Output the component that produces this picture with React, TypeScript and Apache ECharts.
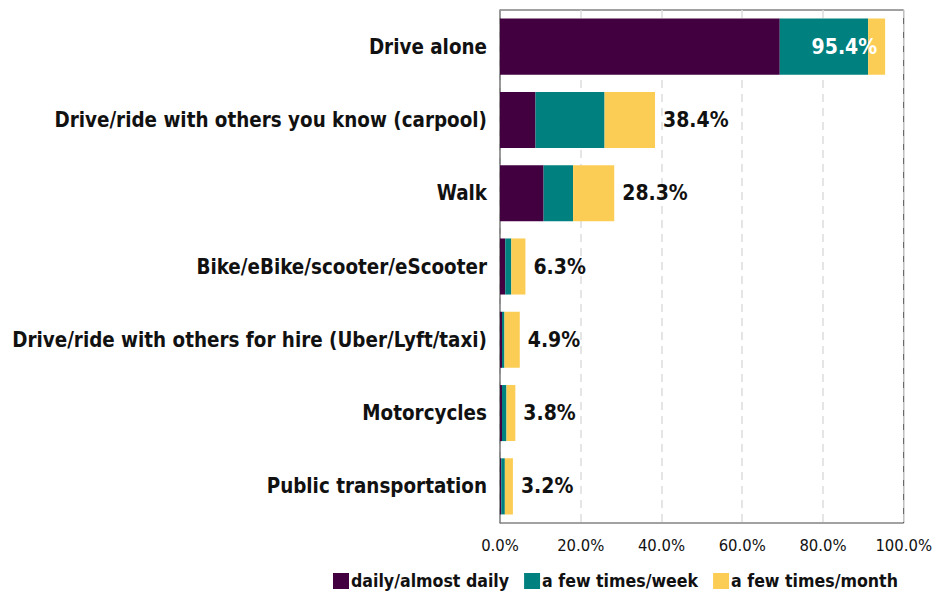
import React, { useEffect, useRef } from "react";
import * as echarts from "echarts";

const categories = [
  "Drive alone",
  "Drive/ride with others you know (carpool)",
  "Walk",
  "Bike/eBike/scooter/eScooter",
  "Drive/ride with others for hire (Uber/Lyft/taxi)",
  "Motorcycles",
  "Public transportation",
];
const daily = [69.3, 8.8, 10.8, 1.3, 0.5, 0.5, 0.3];
const weekly = [21.9, 17.1, 7.3, 1.5, 0.6, 1.1, 0.9];
const monthly = [4.2, 12.5, 10.2, 3.5, 3.8, 2.2, 2.0];
const totals = ["95.4%", "38.4%", "28.3%", "6.3%", "4.9%", "3.8%", "3.2%"];
const seriesNames = ["daily/almost daily", "a few times/week", "a few times/month"];
const tickValues = [0, 20, 40, 60, 80, 100];

const FONT = "'DejaVu Sans Condensed', 'DejaVu Sans', sans-serif";

export default function App() {
  const ref = useRef<HTMLDivElement>(null);
  useEffect(() => {
    if (!ref.current) return;
    document.body.style.margin = "0";
    const chart = echarts.init(ref.current, null, { renderer: "svg" });
    const colors = ["#420040", "#00817f", "#fccd55"];
    const monthData = monthly.map((v, i) => {
      if (i === 0) {
        return {
          value: v,
          label: {
            show: true,
            position: "insideRight",
            distance: 8,
            color: "#ffffff",
            formatter: () => totals[i],
          },
        };
      }
      return v;
    });
    chart.setOption({
      animation: false,
      textStyle: { fontFamily: FONT },
      color: colors,
      grid: {
        left: 500,
        right: 31,
        top: 10,
        bottom: 68,
        show: true,
        borderColor: "#444444",
        borderWidth: 1,
        containLabel: false,
      },
      legend: {
        top: 567,
        left: 328,
        itemWidth: 16,
        itemHeight: 16,
        itemGap: 15,
        icon: "rect",
        textStyle: { fontFamily: FONT, fontSize: 17.6, fontWeight: "bold", color: "#111", padding: [0, 0, 0, -3] },
        data: seriesNames,
      },
      xAxis: {
        type: "value",
        min: tickValues[0],
        max: tickValues[tickValues.length - 1],
        interval: 20,
        axisLine: { show: false },
        axisTick: { show: false },
        axisLabel: {
          color: "#111",
          fontSize: 16.5,
          fontFamily: FONT,
          margin: 14,
          formatter: (v: number) => v.toFixed(1) + "%",
        },
        splitLine: { show: true, lineStyle: { type: [8, 6], color: "#dddddd", width: 1.5 } },
      },
      yAxis: {
        type: "category",
        inverse: true,
        data: categories,
        axisLine: { show: true, lineStyle: { color: "#888888", width: 1.5 } },
        axisTick: { show: false },
        axisLabel: {
          color: "#111",
          fontSize: 20.4,
          fontWeight: "bold",
          fontFamily: FONT,
          margin: 13,
        },
      },
      series: [
        {
          name: seriesNames[0],
          type: "bar",
          stack: "total",
          barCategoryGap: "23.5%",
          data: daily,
        },
        {
          name: seriesNames[1],
          type: "bar",
          stack: "total",
          data: weekly,
        },
        {
          name: seriesNames[2],
          type: "bar",
          stack: "total",
          data: monthData,
          label: {
            show: true,
            position: "right",
            distance: 8,
            color: "#111",
            fontSize: 21,
            fontWeight: "bold",
            fontFamily: FONT,
            formatter: (p: any) => totals[p.dataIndex],
          },
        },
      ],
    });
    return () => chart.dispose();
  }, []);
  return (
    <div
      ref={ref}
      style={{ position: "absolute", left: 0, top: 0, width: 935, height: 591 }}
    />
  );
}
